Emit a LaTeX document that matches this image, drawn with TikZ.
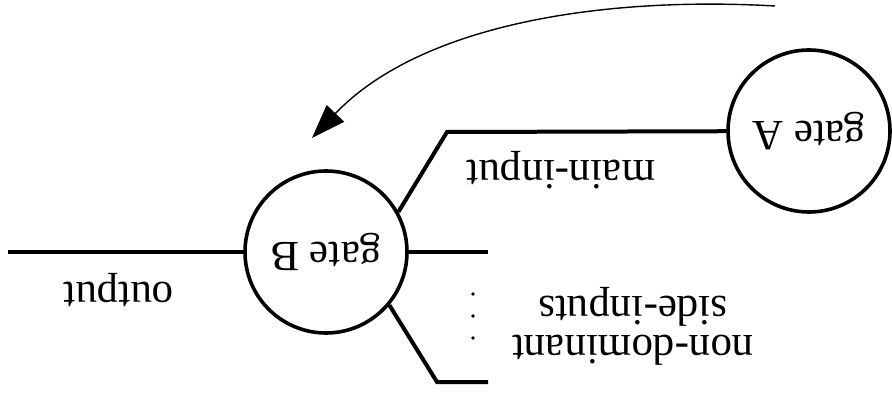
\documentclass[tikz,border=0pt]{standalone}
\usepackage{fontspec}
\setmainfont{Liberation Serif}
\usepackage{tikz}
\usetikzlibrary{arrows.meta}

\begin{document}
\begin{tikzpicture}[
  x=1pt, y=-1pt,
  every node/.style={font=\fontsize{43}{39}\selectfont},
  gate/.style={draw, circle, line width=3.6pt, minimum size=162pt, inner sep=0pt},
  wire/.style={line width=4pt},
  arr/.style={-{Triangle[length=34pt, width=24pt]}, line width=1.4pt},
  lbl/.style={rotate=180, inner sep=0pt, align=center}
]
\useasboundingbox (0,0) rectangle (892,393);

\node[gate] (gateB) at (326,252) {\rotatebox{180}{gate B}};
\node[gate] (gateA) at (809,131) {\rotatebox{180}{gate A}};

\coordinate (outEnd) at (8,252);
\coordinate (sideEnd) at (488,252);
\coordinate (mainKnee) at (447,132);
\coordinate (lowKnee) at (437,382);
\coordinate (lowEnd) at (488,382);
\coordinate (arcStart) at (775,6);
\coordinate (arcEnd) at (312,138);

% wires
\draw[wire] (gateB) -- (outEnd);
\draw[wire] (gateB) -- (sideEnd);
\draw[wire] (gateB.29) -- (mainKnee) -- (gateA);
\draw[wire] (gateB.-40) -- (lowKnee) -- (lowEnd);
\foreach \y in {294,316,338} \fill (473,\y) circle (1.9pt);

% labels
\node[lbl] (outLbl) at (119,290) {output};
\node[lbl] (mainLbl) at (561,170) {main-input};
\node[lbl] (sideLbl) at (633,326) {non-dominant\\side-inputs};

\draw[arr] (arcStart) .. controls (600,-4) and (420,25) .. (arcEnd);
\end{tikzpicture}
\end{document}
